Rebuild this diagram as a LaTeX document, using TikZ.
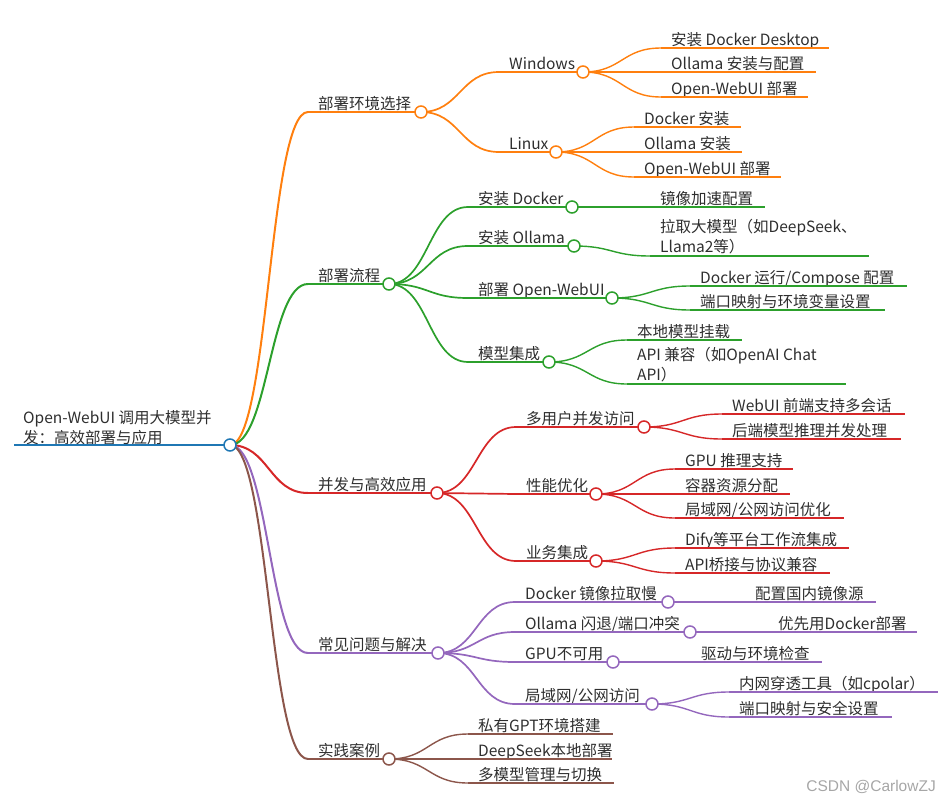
\documentclass[tikz,border=0pt]{standalone}
\usepackage{fontspec}
\setmainfont{Noto Sans CJK SC}
\newfontfamily\wmfont{Liberation Sans}
\usetikzlibrary{calc,backgrounds}

\definecolor{cBlue}{HTML}{1F77B4}
\definecolor{cOrange}{HTML}{FF7F0E}
\definecolor{cGreen}{HTML}{2CA02C}
\definecolor{cRed}{HTML}{D62728}
\definecolor{cPurple}{HTML}{9467BD}
\definecolor{cBrown}{HTML}{8C564B}

\tikzset{
  txt/.style={anchor=base west, inner sep=0pt, text=black!82, font=\fontsize{15.5}{20}\selectfont},
  twoline/.style={anchor=south west, align=left, yshift=-1pt},
  dot/.style={circle, draw=#1, fill=white, line width=1.5pt, minimum size=12pt, inner sep=0pt},
  lvA/.style={line width=2pt},
  lvB/.style={line width=1.7pt},
  lvC/.style={line width=1.4pt},
  link/.style={to path={let \p1=(\tikztostart), \p2=(\tikztotarget) in
    .. controls ({(\x1+\x2)/2},\y1) and ({(\x1+\x2)/2},\y2) .. (\tikztotarget)}},
}

% #1 name, #2 colour, #3 width style, #4 text x, #5 circle x, #6 y, #7 text
\newcommand{\mmtopic}[7]{%
  \coordinate (#1-in) at ({#4-10},#6);
  \node[txt] (#1-txt) at (#4,{#6-2.5}) {#7};
  \draw[#2, #3] (#1-in) -- (#5,#6);
  \node[dot=#2] (#1) at (#5,#6) {};
}
% [#1 extra], #2 name, #3 colour, #4 text x, #5 end x, #6 y, #7 text
\newcommand{\mmleaf}[7][]{%
  \coordinate (#2-in) at ({#4-10},#6);
  \node[txt, #1] (#2) at (#4,{#6-2.5}) {#7};
  \draw[#3, lvC] (#2-in) -- (#5,#6);
}

\begin{document}
\begin{tikzpicture}[x=1pt, y=-1pt]
    \useasboundingbox (0,0) rectangle (943,801);
    % 根节点
    \coordinate (root-in) at (14,445);
    \node[txt, anchor=south west, align=left] (root-txt) at (23,445) {Open-WebUI 调用大模型并\\发：高效部署与应用};
    \draw[cBlue, line width=2.5pt] (root-in) -- (230,445);
    \node[dot=cBlue] (root) at (230,445) {};

    % 第一层
    \mmtopic{env}{cOrange}{lvA}{318}{421}{112}{部署环境选择}
    \mmtopic{flow}{cGreen}{lvA}{318}{389}{284}{部署流程}
    \mmtopic{conc}{cRed}{lvA}{318}{437}{493}{并发与高效应用}
    \mmtopic{prob}{cPurple}{lvA}{318}{438}{653}{常见问题与解决}
    \mmtopic{case}{cBrown}{lvA}{318}{389}{759}{实践案例}

    % 第二层
    \mmtopic{win}{cOrange}{lvB}{509}{583}{72}{Windows}
    \mmtopic{lin}{cOrange}{lvB}{509}{556}{152}{Linux}
    \mmtopic{dock}{cGreen}{lvB}{478}{572}{207}{安装 Docker}
    \mmtopic{olla}{cGreen}{lvB}{478}{574}{246}{安装 Ollama}
    \mmtopic{owui}{cGreen}{lvB}{478}{612}{298}{部署 Open-WebUI}
    \mmtopic{integ}{cGreen}{lvB}{478}{549}{362}{模型集成}
    \mmtopic{multi}{cRed}{lvB}{526}{644}{427}{多用户并发访问}
    \mmtopic{perf}{cRed}{lvB}{526}{596}{494}{性能优化}
    \mmtopic{biz}{cRed}{lvB}{526}{596}{561}{业务集成}
    \mmtopic{dslow}{cPurple}{lvB}{525}{668}{602}{Docker 镜像拉取慢}
    \mmtopic{crash}{cPurple}{lvB}{525}{690}{632}{Ollama 闪退/端口冲突}
    \mmtopic{gpu}{cPurple}{lvB}{525}{613}{662}{GPU不可用}
    \mmtopic{lan}{cPurple}{lvB}{525}{652}{704}{局域网/公网访问}

    % 叶子
    \mmleaf{winA}{cOrange}{671}{829}{48}{安装 Docker Desktop}
    \mmleaf{winB}{cOrange}{671}{816}{72}{Ollama 安装与配置}
    \mmleaf{winC}{cOrange}{671}{808}{97}{Open-WebUI 部署}
    \mmleaf{linA}{cOrange}{644}{741}{127}{Docker 安装}
    \mmleaf{linB}{cOrange}{644}{742}{152}{Ollama 安装}
    \mmleaf{linC}{cOrange}{644}{781}{177}{Open-WebUI 部署}
    \mmleaf{dockA}{cGreen}{660}{765}{207}{镜像加速配置}
    \mmleaf[twoline]{ollaA}{cGreen}{660}{869}{256}{拉取大模型（如DeepSeek、\\Llama2等）}
    \mmleaf{owuiA}{cGreen}{700}{907}{286}{Docker 运行/Compose 配置}
    \mmleaf{owuiB}{cGreen}{700}{885}{310}{端口映射与环境变量设置}
    \mmleaf{integA}{cGreen}{637}{742}{340}{本地模型挂载}
    \mmleaf[twoline]{integB}{cGreen}{637}{846}{384}{API 兼容（如OpenAI Chat\\API）}
    \mmleaf{multiA}{cRed}{732}{905}{414}{WebUI 前端支持多会话}
    \mmleaf{multiB}{cRed}{732}{901}{439}{后端模型推理并发处理}
    \mmleaf{perfA}{cRed}{685}{793}{469}{GPU 推理支持}
    \mmleaf{perfB}{cRed}{685}{790}{494}{容器资源分配}
    \mmleaf{perfC}{cRed}{685}{844}{518}{局域网/公网访问优化}
    \mmleaf{bizA}{cRed}{685}{849}{548}{Dify等平台工作流集成}
    \mmleaf{bizB}{cRed}{685}{830}{573}{API桥接与协议兼容}
    \mmleaf{dslowA}{cPurple}{755}{876}{602}{配置国内镜像源}
    \mmleaf{crashA}{cPurple}{778}{917}{632}{优先用Docker部署}
    \mmleaf{gpuA}{cPurple}{701}{822}{662}{驱动与环境检查}
    \mmleaf{lanA}{cPurple}{739}{938}{692}{内网穿透工具（如cpolar）}
    \mmleaf{lanB}{cPurple}{739}{892}{717}{端口映射与安全设置}
    \mmleaf{caseA}{cBrown}{478}{613}{734}{私有GPT环境搭建}
    \mmleaf{caseB}{cBrown}{478}{612}{759}{DeepSeek本地部署}
    \mmleaf{caseC}{cBrown}{478}{614}{783}{多模型管理与切换}

    % 连线（放在底层）
    \begin{pgfonlayer}{background}
    \foreach \b/\c in {env/cOrange, flow/cGreen, conc/cRed, prob/cPurple, case/cBrown}
        \draw[\c, lvA] (root.center) to[link] (\b-in);
    \foreach \p/\b/\c in {env/win/cOrange, env/lin/cOrange, flow/dock/cGreen, flow/olla/cGreen,
        flow/owui/cGreen, flow/integ/cGreen, conc/multi/cRed, conc/perf/cRed, conc/biz/cRed,
        prob/dslow/cPurple, prob/crash/cPurple, prob/gpu/cPurple, prob/lan/cPurple}
        \draw[\c, lvB] (\p.center) to[link] (\b-in);
    \foreach \p/\b/\c in {win/winA/cOrange, win/winB/cOrange, win/winC/cOrange,
        lin/linA/cOrange, lin/linB/cOrange, lin/linC/cOrange,
        dock/dockA/cGreen, olla/ollaA/cGreen, owui/owuiA/cGreen, owui/owuiB/cGreen,
        integ/integA/cGreen, integ/integB/cGreen,
        multi/multiA/cRed, multi/multiB/cRed, perf/perfA/cRed, perf/perfB/cRed, perf/perfC/cRed,
        biz/bizA/cRed, biz/bizB/cRed,
        dslow/dslowA/cPurple, crash/crashA/cPurple, gpu/gpuA/cPurple, lan/lanA/cPurple, lan/lanB/cPurple,
        case/caseA/cBrown, case/caseB/cBrown, case/caseC/cBrown}
        \draw[\c, lvC] (\p.center) to[link] (\b-in);
    \end{pgfonlayer}

    % 水印
    \node[anchor=base east, inner sep=0pt, text=black!35, font=\wmfont\fontsize{15.5}{18}\selectfont] (mark) at (936,791) {CSDN @CarlowZJ};
\end{tikzpicture}
\end{document}
